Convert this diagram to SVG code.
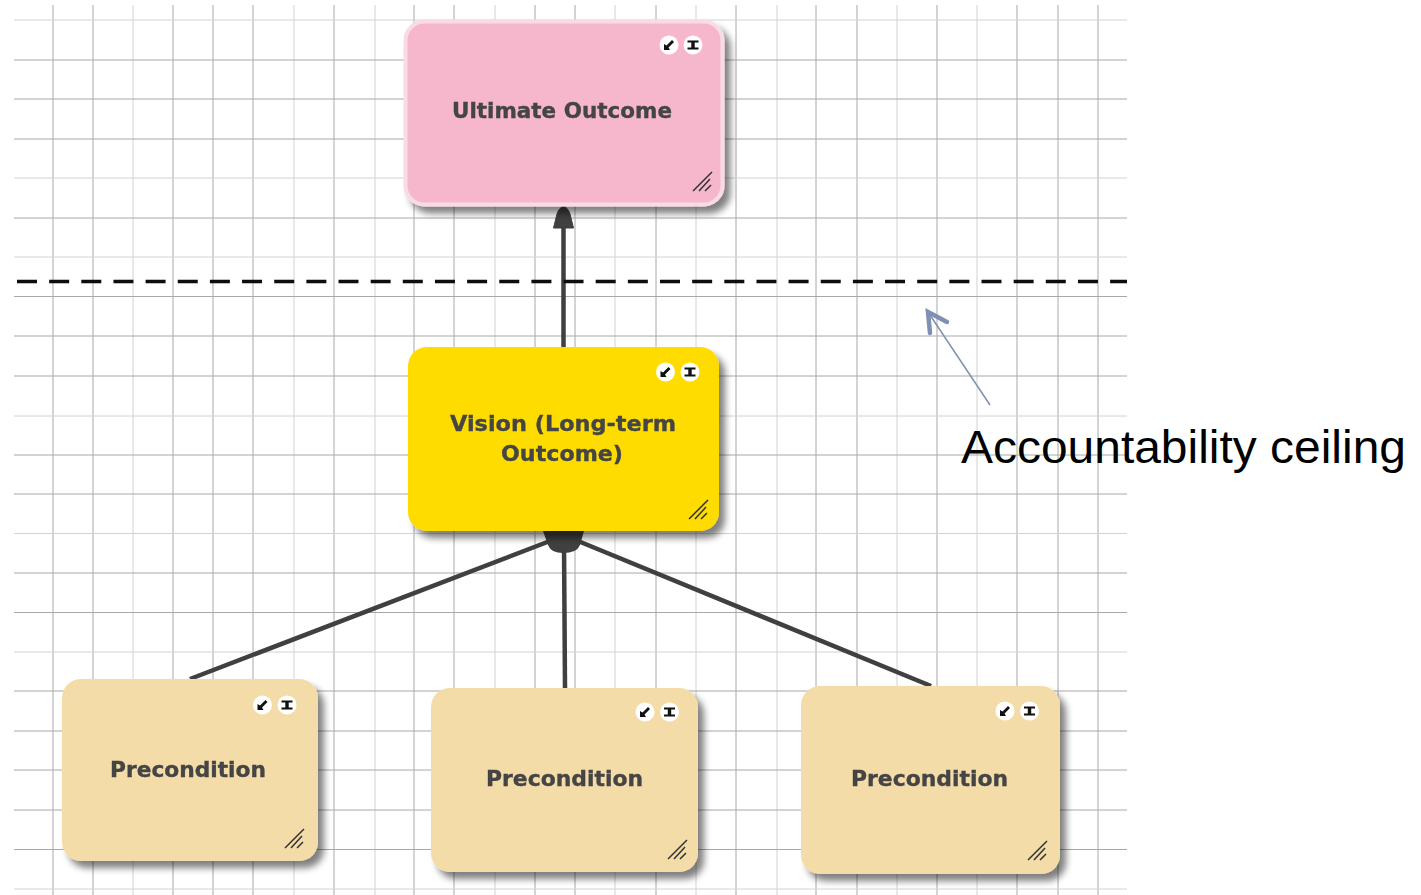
<svg xmlns="http://www.w3.org/2000/svg" width="1421" height="895" viewBox="0 0 1421 895">
<style>
.g{stroke:#a8a8a8;stroke-width:1;fill:none}
.gl{stroke:#d2d2d2;stroke-width:1;fill:none}
.card{filter:url(#shadow)}
.t{font-family:"DejaVu Sans",sans-serif;font-weight:bold;font-size:21px;fill:#444;stroke:#444;stroke-width:.35;text-anchor:start;filter:url(#soft)}
.c{stroke:#3f3f3f;stroke-width:4.500;fill:none}
</style>
<defs>
<filter id="shadow" x="-10%" y="-10%" width="125%" height="125%"><feGaussianBlur in="SourceAlpha" stdDeviation="3.500"/><feOffset dx="6" dy="7"/><feComponentTransfer><feFuncA type="linear" slope=".5"/></feComponentTransfer><feMerge><feMergeNode/><feMergeNode in="SourceGraphic"/></feMerge></filter>
<filter id="soft" x="-5%" y="-5%" width="110%" height="110%"><feGaussianBlur stdDeviation="0.4"/></filter>
<g id="i-shrink"><circle r="9.5" fill="#fff"/><path d="M-5-1V5H1L-.5 2.500 5-3 3-5-2.500 .5Z" fill="#111"/></g>
<g id="i-text"><circle r="9.5" fill="#fff"/><path d="M-5.500-4.500H5.500V-2.500H1.700V2.500H5.500V4.500H-5.500V2.500H-1.700V-2.500H-5.500Z" fill="#111"/></g>
<g id="i-resize" stroke="#333" stroke-width="1.500" fill="none" filter="url(#soft)"><path d="M-10 9 9-10M-4 9 7-3M2 9 8 3"/></g>
</defs>
<g id="grid" filter="url(#soft)">
<path class="g" d="M53 5V895M93 5V895M173 5V895M213 5V895M253 5V895M334 5V895M414 5V895M454 5V895M535 5V895M575 5V895M656 5V895M736 5V895M816 5V895M857 5V895M937 5V895M1017 5V895M1058 5V895M1098 5V895"/>
<path class="gl" d="M133 5V895M294 5V895M375 5V895M495 5V895M615 5V895M696 5V895M777 5V895M897 5V895M977 5V895"/>
<path class="g" d="M14 60H1127M14 99H1127M14 139H1127M14 218H1127M14 296.500H1127M14 336H1127M14 376H1127M14 455H1127M14 494H1127M14 573H1127M14 612.500H1127M14 691H1127M14 731H1127M14 770H1127M14 810H1127M14 849.500H1127"/>
<path class="gl" d="M14 20H1127M14 178H1127M14 257H1127M14 416H1127M14 533.500H1127M14 652H1127M14 889H1127"/>
</g>
<g id="connectors" filter="url(#soft)">
<path class="c" d="M563.500 347V222"/>
<path d="M563.500 206.500Q567.500 207 570 214L573.500 228H553.500L557 214Q559.500 207 563.500 206.500Z" fill="#3f3f3f" stroke="#3f3f3f" stroke-linejoin="round"/>
<path class="c" d="M190 679 550 541"/>
<path class="c" d="M565 688 564 545"/>
<path class="c" d="M931 686 578 541"/>
<path d="M543 531H584L580 545Q577 553 563 553Q551 553 548 545Z" fill="#3f3f3f"/>
<path id="ceiling" d="M17 281.500H1127" stroke="#111" stroke-width="3.500" stroke-dasharray="20 12.150" fill="none"/>
<path d="M990 405 928 312" stroke="#8090b5" stroke-width="1.500" fill="none"/>
<path d="M947 322 928 312 930 333" stroke="#8090b5" stroke-width="4.500" stroke-linecap="round" fill="none"/>
</g>
<g id="node-ultimate">
<rect class="card" x="405.500" y="21.500" width="317" height="183" rx="19" fill="#f6b6cc" stroke="#f9dbe5" stroke-width="4"/>
<use href="#i-shrink" x="669" y="45"/><use href="#i-text" x="693" y="45"/><use href="#i-resize" x="703" y="182"/>
<text class="t" x="452" y="118" textLength="220" lengthAdjust="spacingAndGlyphs">Ultimate Outcome</text>
</g>
<g id="node-vision">
<rect class="card" x="408" y="347" width="311" height="184" rx="19" fill="#ffdc00"/>
<use href="#i-shrink" x="665.500" y="372"/><use href="#i-text" x="690" y="372"/><use href="#i-resize" x="699" y="510"/>
<text class="t" x="450" y="431" textLength="226" lengthAdjust="spacingAndGlyphs">Vision (Long-term</text>
<text class="t" x="501" y="461" textLength="122" lengthAdjust="spacingAndGlyphs">Outcome)</text>
</g>
<g id="node-precondition-1">
<rect class="card" x="62" y="679" width="256" height="182" rx="19" fill="#f4dca8"/>
<use href="#i-shrink" x="262.500" y="705"/><use href="#i-text" x="287" y="705"/><use href="#i-resize" x="295" y="839"/>
<text class="t" x="110" y="777" textLength="156" lengthAdjust="spacingAndGlyphs">Precondition</text>
</g>
<g id="node-precondition-2">
<rect class="card" x="431" y="688" width="267" height="184" rx="19" fill="#f4dca8"/>
<use href="#i-shrink" x="645" y="712"/><use href="#i-text" x="669.500" y="712"/><use href="#i-resize" x="678" y="850"/>
<text class="t" x="486" y="786" textLength="157" lengthAdjust="spacingAndGlyphs">Precondition</text>
</g>
<g id="node-precondition-3">
<rect class="card" x="801" y="686" width="259" height="188" rx="19" fill="#f4dca8"/>
<use href="#i-shrink" x="1005" y="711"/><use href="#i-text" x="1029.500" y="711"/><use href="#i-resize" x="1038" y="851"/>
<text class="t" x="851" y="786" textLength="157" lengthAdjust="spacingAndGlyphs">Precondition</text>
</g>
<g id="label-ceiling">
<text x="961" y="463" font-family="'Liberation Sans',Arial,sans-serif" font-size="46" fill="#000" textLength="445" lengthAdjust="spacingAndGlyphs">Accountability ceiling</text>
</g>
</svg>
